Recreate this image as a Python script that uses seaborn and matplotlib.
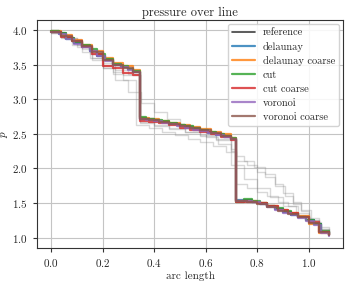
import matplotlib
matplotlib.use("Agg")
import matplotlib.pyplot as plt
import seaborn as sns

# fine grids (delaunay, cut, voronoi, reference)
x_fine = [0.00, 0.03, 0.06, 0.09, 0.12, 0.15, 0.18, 0.21, 0.24, 0.27, 0.30, 0.32,
          0.345, 0.37, 0.40, 0.43, 0.46, 0.49, 0.52, 0.55, 0.58, 0.61, 0.64, 0.67,
          0.70, 0.72, 0.75, 0.78, 0.81, 0.84, 0.87, 0.90, 0.93, 0.96, 0.99, 1.02,
          1.05, 1.08]
p_reference = [3.98, 3.96, 3.88, 3.81, 3.76, 3.70, 3.63, 3.56, 3.50, 3.47, 3.43, 3.40,
               2.73, 2.71, 2.69, 2.67, 2.65, 2.62, 2.60, 2.57, 2.55, 2.52, 2.49, 2.46,
               2.43, 1.53, 1.54, 1.52, 1.49, 1.45, 1.41, 1.37, 1.33, 1.29, 1.25, 1.19,
               1.08, 1.03]
p_delaunay = [3.98, 3.95, 3.87, 3.81, 3.76, 3.70, 3.62, 3.56, 3.50, 3.47, 3.43, 3.40,
              2.72, 2.71, 2.69, 2.67, 2.64, 2.62, 2.59, 2.57, 2.54, 2.51, 2.48, 2.45,
              2.42, 1.54, 1.53, 1.52, 1.49, 1.45, 1.41, 1.37, 1.33, 1.29, 1.25, 1.19,
              1.08, 1.03]
p_cut = [3.98, 3.96, 3.89, 3.82, 3.78, 3.72, 3.65, 3.58, 3.51, 3.48, 3.44, 3.41,
         2.74, 2.72, 2.70, 2.68, 2.66, 2.63, 2.61, 2.58, 2.56, 2.53, 2.50, 2.47,
         2.44, 1.52, 1.56, 1.53, 1.50, 1.46, 1.42, 1.38, 1.34, 1.30, 1.26, 1.20,
         1.09, 1.03]
p_voronoi = [3.97, 3.95, 3.87, 3.80, 3.75, 3.69, 3.62, 3.55, 3.49, 3.46, 3.42, 3.39,
             2.72, 2.70, 2.68, 2.66, 2.64, 2.61, 2.59, 2.56, 2.54, 2.51, 2.48, 2.45,
             2.42, 1.53, 1.53, 1.52, 1.48, 1.44, 1.40, 1.36, 1.32, 1.28, 1.24, 1.18,
             1.07, 1.02]

# coarse grids
x_coarse = [0.00, 0.04, 0.08, 0.12, 0.16, 0.20, 0.24, 0.28, 0.32, 0.345, 0.38, 0.42,
            0.46, 0.50, 0.54, 0.58, 0.62, 0.66, 0.70, 0.72, 0.76, 0.80, 0.84, 0.88,
            0.92, 0.96, 1.00, 1.04, 1.08]
p_delaunay_coarse = [3.98, 3.93, 3.86, 3.78, 3.70, 3.60, 3.52, 3.48, 3.42, 2.73, 2.71,
                     2.69, 2.66, 2.63, 2.60, 2.57, 2.53, 2.49, 2.44, 1.53, 1.53, 1.50,
                     1.45, 1.40, 1.35, 1.31, 1.20, 1.07, 1.03]
p_cut_coarse = [3.97, 3.90, 3.84, 3.76, 3.65, 3.48, 3.45, 3.38, 3.35, 2.69, 2.67, 2.65,
                2.62, 2.59, 2.56, 2.53, 2.49, 2.45, 2.41, 1.52, 1.51, 1.50, 1.45, 1.40,
                1.35, 1.30, 1.22, 1.08, 1.03]
p_voronoi_coarse = [3.97, 3.92, 3.84, 3.77, 3.68, 3.57, 3.50, 3.45, 3.40, 2.72, 2.70,
                    2.67, 2.64, 2.61, 2.58, 2.55, 2.51, 2.47, 2.42, 1.53, 1.52, 1.49,
                    1.44, 1.39, 1.34, 1.29, 1.21, 1.08, 1.03]

# faint background runs (no legend entry)
x_bg1 = [0.00, 0.05, 0.10, 0.15, 0.20, 0.25, 0.30, 0.35, 0.40, 0.45, 0.50, 0.55, 0.60,
         0.65, 0.70, 0.75, 0.80, 0.85, 0.90, 0.95, 1.00, 1.05, 1.08]
p_bg1 = [3.97, 3.88, 3.75, 3.60, 3.45, 3.28, 3.10, 2.95, 2.82, 2.72, 2.63, 2.55, 2.45,
         2.35, 2.05, 1.85, 1.72, 1.58, 1.45, 1.33, 1.22, 1.10, 1.05]
x_bg2 = [0.00, 0.04, 0.08, 0.12, 0.16, 0.20, 0.24, 0.28, 0.33, 0.38, 0.43, 0.48, 0.53,
         0.58, 0.63, 0.68, 0.72, 0.76, 0.80, 0.84, 0.88, 0.92, 0.96, 1.00, 1.04, 1.08]
p_bg2 = [3.96, 3.88, 3.78, 3.68, 3.56, 3.45, 3.36, 3.28, 2.62, 2.58, 2.53, 2.48, 2.43,
         2.38, 2.32, 2.24, 1.78, 1.72, 1.66, 1.60, 1.52, 1.45, 1.36, 1.25, 1.12, 1.06]
x_bg3 = [0.00, 0.04, 0.08, 0.12, 0.16, 0.20, 0.24, 0.28, 0.345, 0.40, 0.46, 0.52, 0.58,
         0.64, 0.70, 0.72, 0.76, 0.80, 0.83, 0.87, 0.91, 0.94, 0.97, 1.00, 1.04, 1.08]
p_bg3 = [3.97, 3.90, 3.82, 3.72, 3.60, 3.48, 3.40, 3.35, 2.65, 2.61, 2.57, 2.52, 2.47,
         2.41, 2.25, 2.10, 2.05, 1.95, 1.88, 1.75, 1.60, 1.48, 1.38, 1.28, 1.15, 1.05]
x_bg4 = [0.00, 0.05, 0.10, 0.15, 0.20, 0.25, 0.30, 0.345, 0.40, 0.46, 0.52, 0.58, 0.64,
         0.70, 0.72, 0.75, 0.79, 0.83, 0.87, 0.90, 0.94, 0.97, 1.01, 1.04, 1.08]
p_bg4 = [3.96, 3.89, 3.79, 3.66, 3.52, 3.42, 3.36, 2.67, 2.63, 2.58, 2.53, 2.48, 2.42,
         2.28, 2.18, 2.10, 2.02, 1.92, 1.78, 1.65, 1.52, 1.40, 1.26, 1.12, 1.08]

series = [
    ("delaunay", x_fine, p_delaunay, "C0"),
    ("delaunay coarse", x_coarse, p_delaunay_coarse, "C1"),
    ("cut", x_fine, p_cut, "C2"),
    ("cut coarse", x_coarse, p_cut_coarse, "C3"),
    ("voronoi", x_fine, p_voronoi, "C4"),
    ("voronoi coarse", x_coarse, p_voronoi_coarse, "C5"),
]
background = [(x_bg1, p_bg1), (x_bg2, p_bg2), (x_bg3, p_bg3), (x_bg4, p_bg4)]

sns.set_style("ticks", {"axes.grid": True})
plt.rcParams.update({
    "font.family": "serif",
    "font.serif": ["cmr10", "DejaVu Serif"],
    "mathtext.fontset": "cm",
    "axes.formatter.use_mathtext": True,
    "font.size": 8,
    "grid.color": "#c4c4c4",
    "grid.linewidth": 0.8,
    "axes.edgecolor": "#333333",
    "axes.linewidth": 0.8,
})

fig, ax = plt.subplots(figsize=(3.53, 2.82), dpi=100)
fig.subplots_adjust(left=0.105, right=0.972, bottom=0.121, top=0.929)

for xs, ps in background:
    sns.lineplot(x=xs, y=ps, ax=ax, drawstyle="steps-post", color="gray",
                 alpha=0.3, linewidth=1.0, estimator=None, sort=False)

sns.lineplot(x=x_fine, y=p_reference, ax=ax, drawstyle="steps-post",
             color="black", alpha=0.75, linewidth=1.2, label="reference",
             estimator=None, sort=False)
for name, xs, ps, col in series:
    sns.lineplot(x=xs, y=ps, ax=ax, drawstyle="steps-post", color=col,
                 alpha=0.8, linewidth=1.6, label=name, estimator=None, sort=False)

ax.set_xlim(-0.054, 1.134)
ax.set_ylim(0.85, 4.145)
ax.set_xticks([0.0, 0.2, 0.4, 0.6, 0.8, 1.0])
ax.set_yticks([1.0, 1.5, 2.0, 2.5, 3.0, 3.5, 4.0])
ax.tick_params(labelsize=8, length=3, width=0.8, color="#333333")
ax.set_xlabel("arc length", fontsize=8, labelpad=2)
ax.set_ylabel("$p$", fontsize=8, labelpad=2)
ax.set_title("pressure over line", fontsize=9, pad=3)
ax.legend(loc="upper right", fontsize=7.5, frameon=True, framealpha=0.85,
          borderaxespad=0.35, handlelength=2.2, labelspacing=0.42)

plt.savefig("out.png", dpi=100)
plt.close()
